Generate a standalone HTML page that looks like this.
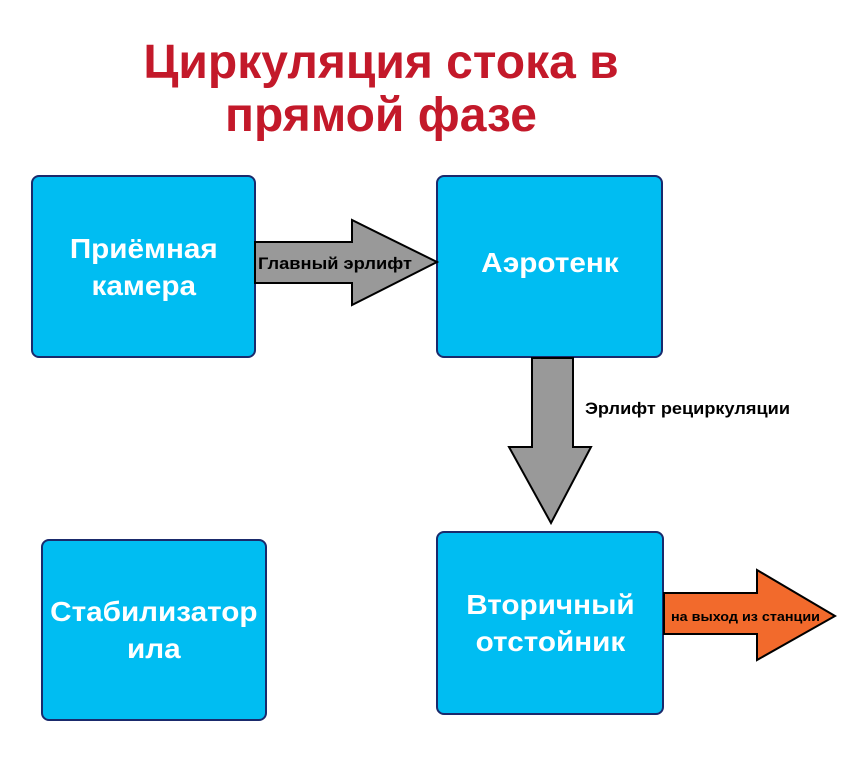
<!DOCTYPE html>
<html><head><meta charset="utf-8"><style>
body{margin:0;width:867px;height:775px;background:#fff;overflow:hidden;font-family:"Liberation Sans",Arial,sans-serif}
.t{position:absolute;left:0;width:762px;text-align:center;color:#c3192a;font-weight:bold;font-size:48px;line-height:53px;top:36px}
.b{position:absolute;background:#00bdf2;border:2px solid #1a2a6c;border-radius:8px;box-sizing:border-box;display:flex;align-items:center;justify-content:center;text-align:center;color:#fff;font-weight:bold;font-size:28px;line-height:37px}
.b span{display:inline-block;transform:scaleX(1.06);white-space:nowrap}
svg{position:absolute;left:0;top:0}
</style></head><body>
<div class="t">Циркуляция стока в<br>прямой фазе</div>
<div class="b" style="left:31px;top:175px;width:225px;height:183px"><span>Приёмная<br>камера</span></div>
<div class="b" style="left:436px;top:175px;width:227px;height:183px;padding-bottom:8px"><span>Аэротенк</span></div>
<div class="b" style="left:41px;top:539px;width:226px;height:182px"><span>Стабилизатор<br>ила</span></div>
<div class="b" style="left:436px;top:531px;width:228px;height:184px"><span>Вторичный<br>отстойник</span></div>
<svg width="867" height="775">
<polygon points="255,242 352,242 352,220 437,262 352,305 352,283 255,283" fill="#999" stroke="#000" stroke-width="2"/>
<polygon points="532,358 573,358 573,447 591,447 551,523 509,447 532,447" fill="#999" stroke="#000" stroke-width="2"/>
<polygon points="664,593 757,593 757,570 835,616 757,660 757,634 664,634" fill="#f26a2c" stroke="#000" stroke-width="2"/>
<text x="258" y="269" font-family="Liberation Sans,sans-serif" font-weight="bold" font-size="17" fill="#000" textLength="154" lengthAdjust="spacingAndGlyphs">Главный эрлифт</text>
<text x="585" y="414" font-family="Liberation Sans,sans-serif" font-weight="bold" font-size="17" fill="#000" textLength="205" lengthAdjust="spacingAndGlyphs">Эрлифт рециркуляции</text>
<text x="671" y="621" font-family="Liberation Sans,sans-serif" font-weight="bold" font-size="13" fill="#000" textLength="149" lengthAdjust="spacingAndGlyphs">на выход из станции</text>
</svg>
</body></html>
